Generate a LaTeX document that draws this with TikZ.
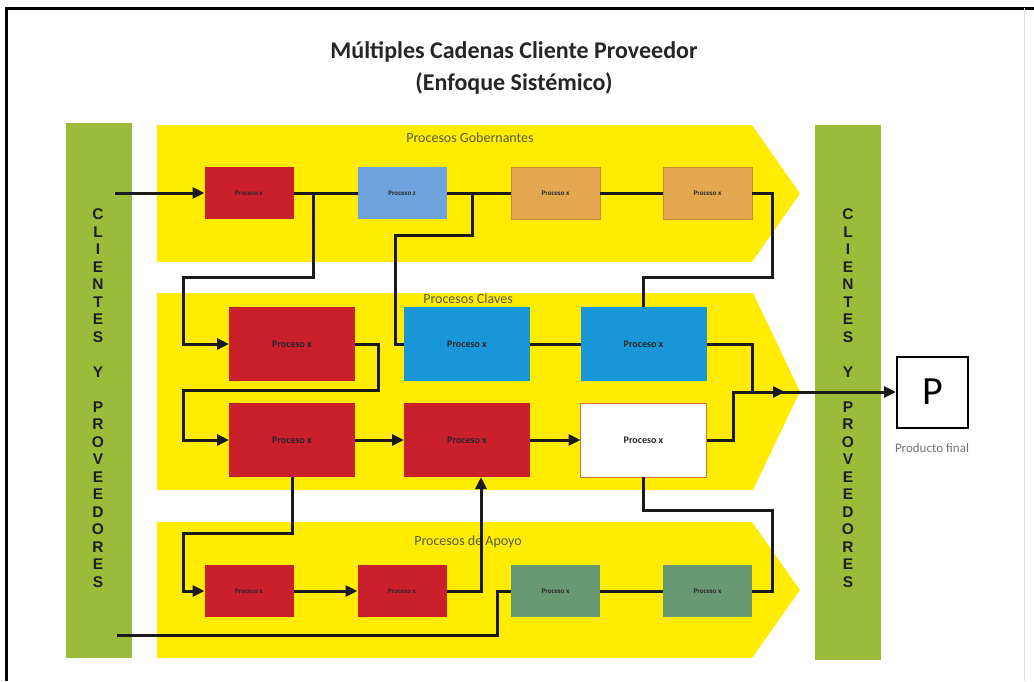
\documentclass[tikz,border=0pt]{standalone}
\usepackage{fontspec}
\setmainfont{Carlito}
\newfontfamily\letterfont{Liberation Sans}
\usetikzlibrary{arrows.meta,calc}

\definecolor{bandyellow}{HTML}{FFEC00}
\definecolor{barolive}{HTML}{9CBB3A}
\definecolor{procred}{HTML}{C9202C}
\definecolor{proclightblue}{HTML}{6EA2DC}
\definecolor{procorange}{HTML}{E2A74F}
\definecolor{procorangeedge}{HTML}{C98A35}
\definecolor{procblue}{HTML}{1896D8}
\definecolor{procsage}{HTML}{679A73}
\definecolor{whiteedge}{HTML}{E07030}
\definecolor{linec}{HTML}{1A1A1A}
\definecolor{labelgray}{HTML}{5A5A3A}

\begin{document}
\begin{tikzpicture}[x=1pt,y=-1pt,
  proc/.style={inner sep=0pt, outer sep=0pt, font=\bfseries, text=black!85},
  smallbox/.style={proc, minimum width=89pt, minimum height=52pt, font=\fontsize{7}{8}\selectfont\bfseries},
  bigbox/.style={proc, minimum width=126pt, minimum height=74pt, font=\fontsize{10}{11}\selectfont\bfseries},
  conn/.style={line width=3pt, draw=linec},
  arr/.style={conn, -{Triangle[length=12pt,width=11pt]}},
  bandlabel/.style={font=\fontsize{14}{16}\selectfont, text=labelgray},
  vertletters/.style={align=center, font=\letterfont\fontsize{15.5}{17.5}\selectfont\bfseries, text=black!88, inner sep=0pt}
]
\useasboundingbox (0,0) rectangle (1034,681);
\fill[white] (0,0) rectangle (1034,681);

% frame
\draw[line width=3pt, black] (6,681) -- (6,8) -- (1034,8);
\draw[line width=1pt, black!12] (1024,8) -- (1024,681);

% title
\node[font=\fontsize{24}{32}\selectfont\bfseries, text=black!85, align=center] (title) at (514,68)
  {Múltiples Cadenas Cliente Proveedor\\(Enfoque Sistémico)};

% process bands
\fill[bandyellow] (157,125) -- (752,125) -- (800,193.5) -- (752,262) -- (157,262) -- cycle;
\fill[bandyellow] (157,293) -- (753,293) -- (800,391.5) -- (753,490) -- (157,490) -- cycle;
\fill[bandyellow] (157,522) -- (752,522) -- (800,590) -- (752,658) -- (157,658) -- cycle;

\node[bandlabel] (lgob) at (470,138) {Procesos Gobernantes};
\node[bandlabel] (lcla) at (468,299) {Procesos Claves};
\node[bandlabel] (lapo) at (468,542) {Procesos de Apoyo};

% clients and suppliers bars
\fill[barolive] (66,123) rectangle (132,658);
\fill[barolive] (815,125) rectangle (881,660);
\node[vertletters] (cpl) at (98,398)
  {C\\L\\I\\E\\N\\T\\E\\S\\[17.5pt]Y\\[17.5pt]P\\R\\O\\V\\E\\E\\D\\O\\R\\E\\S};
\node[vertletters] (cpr) at (848,398)
  {C\\L\\I\\E\\N\\T\\E\\S\\[17.5pt]Y\\[17.5pt]P\\R\\O\\V\\E\\E\\D\\O\\R\\E\\S};

% governing processes
\node[smallbox, fill=procred] (g1) at (249,193) {Proceso x};
\node[smallbox, fill=proclightblue] (g2) at (402,193) {Proceso z};
\node[smallbox, fill=procorange, draw=procorangeedge, line width=1pt] (g3) at (555.5,193) {Proceso x};
\node[smallbox, fill=procorange, draw=procorangeedge, line width=1pt] (g4) at (707.5,193) {Proceso x};

% key processes
\node[bigbox, fill=procred] (k1) at (292,344) {Proceso x};
\node[bigbox, fill=procblue] (k2) at (467,344) {Proceso x};
\node[bigbox, fill=procblue] (k3) at (643.5,344) {Proceso x};
\node[bigbox, fill=procred] (k4) at (292,440) {Proceso x};
\node[bigbox, fill=procred] (k5) at (467,440) {Proceso x};
\node[bigbox, fill=white, draw=whiteedge, line width=0.8pt] (k6) at (643.5,440) {Proceso x};

% support processes
\node[smallbox, fill=procred] (s1) at (249,591) {Proceso x};
\node[smallbox, fill=procred] (s2) at (402,591) {Proceso x};
\node[smallbox, fill=procsage] (s3) at (555.5,591) {Proceso x};
\node[smallbox, fill=procsage] (s4) at (707.5,591) {Proceso x};

% final product
\node[draw=black, line width=2pt, fill=white, minimum width=71pt, minimum height=71pt,
      inner sep=0pt, font=\fontsize{40}{44}\selectfont] (prod) at (932.5,392) {P};
\node[font=\fontsize{13}{15}\selectfont, text=black!55] (prodlabel) at (932,448) {Producto final};

% entry points on the left bar
\coordinate (inTop) at (115,193);
\coordinate (inBot) at (117,635);

% connectors: governing row
\draw[arr] (inTop) -- (g1.west);
\draw[conn] (g1.east) -- (g2.west);
\draw[arr] (g1.east) -| (313,277) -| (183,344) -- (k1.west);
\draw[conn] (g2.east) -- (g3.west);
\draw[conn] (g2.east) -| (472,235) -| (395,344) -- (k2.west);
\draw[conn] (g3.east) -- (g4.west);
\draw[conn] (g4.east) -| (772,277) -| (k3.north);

% connectors: key row
\draw[conn] (k2.east) -- (k3.west);
\draw[conn] (k3.east) -| (752,392);
\draw[arr] (k1.east) -| (378,390) -| (183,440) -- (k4.west);
\draw[arr] (k4.east) -- (k5.west);
\draw[arr] (k5.east) -- (k6.west);
\draw[arr] (k6.east) -| (733,392) -- (prod.west);
\draw[arr] (733,392) -- (785,392);

% connectors: support row
\draw[arr] (k4.south) |- (183,533) |- (s1.west);
\draw[arr] (s1.east) -- (s2.west);
\draw[arr] (s2.east) -| ($(k5.south)+(14,0)$);
\draw[conn] (inBot) -| (497,591) -- (s3.west);
\draw[conn] (s3.east) -- (s4.west);
\draw[conn] (s4.east) -| (772,510) -| (k6.south);
\end{tikzpicture}
\end{document}
